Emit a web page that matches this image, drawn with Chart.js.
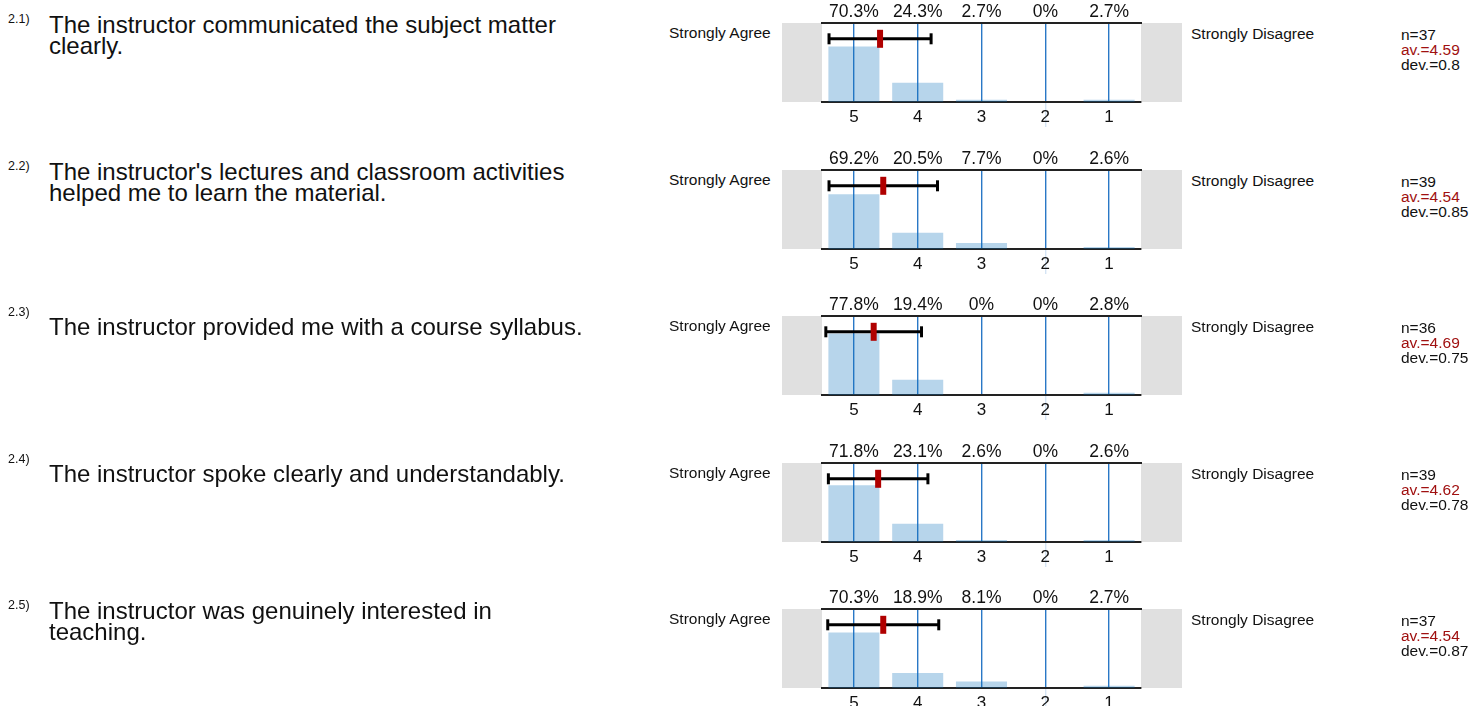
<!DOCTYPE html>
<html><head><meta charset="utf-8">
<script src="https://cdn.jsdelivr.net/npm/chart.js@4.4.1/dist/chart.umd.min.js"></script>
<style>
html,body{margin:0;padding:0;background:#fff;}
body{width:1474px;height:706px;overflow:hidden;position:relative;font-family:"Liberation Sans",Arial,sans-serif;color:#111;}
.row{position:absolute;left:0;width:1474px;height:147px;}
.num{position:absolute;left:8px;top:12px;font-size:12.5px;}
.q{position:absolute;left:49px;top:14px;width:600px;height:42px;display:flex;align-items:center;font-size:24px;line-height:21px;white-space:nowrap;}
.q.single{top:12px;}
.sa{position:absolute;left:669px;top:24px;font-size:15.5px;}
.sd{position:absolute;left:1191px;top:25px;font-size:15.5px;}
.stats{position:absolute;left:1401px;top:27px;font-size:15.5px;line-height:15px;}
.stats .av{color:#a01010;}
canvas{position:absolute;left:782px;top:0;}
</style>
</head><body>
<script>
const questionNumbers = ['2.1)', '2.2)', '2.3)', '2.4)', '2.5)'];
const questionLines = [
  ['The instructor communicated the subject matter', 'clearly.'],
  ["The instructor's lectures and classroom activities", 'helped me to learn the material.'],
  ['The instructor provided me with a course syllabus.'],
  ['The instructor spoke clearly and understandably.'],
  ['The instructor was genuinely interested in', 'teaching.']
];
const categories = ['5', '4', '3', '2', '1'];
const leftLabel = 'Strongly Agree';
const rightLabel = 'Strongly Disagree';
const pctQ1 = [70.3, 24.3, 2.7, 0, 2.7];
const pctQ2 = [69.2, 20.5, 7.7, 0, 2.6];
const pctQ3 = [77.8, 19.4, 0, 0, 2.8];
const pctQ4 = [71.8, 23.1, 2.6, 0, 2.6];
const pctQ5 = [70.3, 18.9, 8.1, 0, 2.7];
const percentages = [pctQ1, pctQ2, pctQ3, pctQ4, pctQ5];
const nValues = [37, 39, 36, 39, 37];
const means = [4.59, 4.54, 4.69, 4.62, 4.54];
const devs = [0.8, 0.85, 0.75, 0.78, 0.87];
const errorBarLevel = 80;

const FONT = '"Liberation Sans", Arial, sans-serif';
Chart.defaults.font.family = FONT;
Chart.defaults.color = '#111';

const grayBoxes = {
  id: 'grayBoxes',
  beforeDraw(chart) {
    const {ctx, chartArea: a, width} = chart;
    ctx.save();
    ctx.fillStyle = '#e0e0e0';
    ctx.fillRect(0, a.top, a.left, a.bottom - a.top);
    ctx.fillRect(a.right, a.top, width - a.right, a.bottom - a.top);
    ctx.restore();
  }
};

const ROW_H = 146.5;
questionNumbers.forEach((num, i) => {
  const top = Math.round(ROW_H * i);
  const row = document.createElement('div');
  row.className = 'row';
  row.style.top = top + 'px';
  const n = document.createElement('div'); n.className = 'num'; n.textContent = num; row.appendChild(n);
  const q = document.createElement('div'); q.className = 'q' + (questionLines[i].length === 1 ? ' single' : '');
  const inner = document.createElement('div');
  questionLines[i].forEach((l, k) => { if (k) inner.appendChild(document.createElement('br')); inner.appendChild(document.createTextNode(l)); });
  q.appendChild(inner); row.appendChild(q);
  const sa = document.createElement('div'); sa.className = 'sa'; sa.textContent = leftLabel; row.appendChild(sa);
  const sd = document.createElement('div'); sd.className = 'sd'; sd.textContent = rightLabel; row.appendChild(sd);
  const st = document.createElement('div'); st.className = 'stats';
  st.innerHTML = '<div>n=' + nValues[i] + '</div><div class="av">av.=' + means[i] + '</div><div>dev.=' + devs[i] + '</div>';
  row.appendChild(st);
  const c = document.createElement('canvas');
  c.width = 400; c.height = 147;
  c.style.width = '400px'; c.style.height = '147px';
  row.appendChild(c);
  document.body.appendChild(row);

  new Chart(c.getContext('2d'), {
    type: 'bar',
    data: {
      labels: categories,
      datasets: [
        {
          type: 'bar', data: percentages[i], xAxisID: 'x', yAxisID: 'y',
          backgroundColor: 'rgba(15,115,188,0.3)', borderWidth: 0, grouped: false,
          barPercentage: 0.8, categoryPercentage: 1.0, order: 3
        },
        {
          type: 'line', xAxisID: 'xm', yAxisID: 'y',
          data: [{x: means[i] - devs[i], y: errorBarLevel}, {x: means[i] + devs[i], y: errorBarLevel}],
          borderColor: '#000', borderWidth: 3,
          pointStyle: 'line', rotation: 90, pointRadius: 5.5,
          pointBorderWidth: 3, pointBorderColor: '#000', pointBackgroundColor: '#000', order: 2
        },
        {
          type: 'line', xAxisID: 'xm', yAxisID: 'y', showLine: false,
          data: [{x: means[i], y: errorBarLevel}],
          pointStyle: 'line', rotation: 90, pointRadius: 9,
          pointBorderWidth: 6, pointBorderColor: '#b00000', order: 1
        }
      ]
    },
    options: {
      responsive: false, animation: false, events: [],
      layout: {padding: {left: 40, right: 41, top: 0, bottom: 0}},
      plugins: {legend: {display: false}, tooltip: {enabled: false}},
      scales: {
        x: {
          type: 'category', position: 'bottom', offset: true,
          grid: {offset: false, color: '#2a78c6', lineWidth: 1.4, drawTicks: true, tickLength: 25,
                 tickColor: ctx => ctx.index === 3 ? 'rgba(42,120,198,0.2)' : 'rgba(0,0,0,0)'},
          border: {color: '#222', width: 2},
          ticks: {color: '#111', font: {size: 17}, padding: -20, autoSkip: false, maxRotation: 0},
          afterFit(s) { s.height = 45; }
        },
        xt: {
          type: 'category', position: 'top', offset: true,
          labels: percentages[i].map(v => v + '%'),
          grid: {display: false, drawTicks: false},
          border: {color: '#222', width: 2},
          ticks: {color: '#111', font: {size: 17.5}, padding: 0, autoSkip: false, maxRotation: 0},
          afterFit(s) { s.height = 23; }
        },
        xm: {type: 'linear', display: false, offset: false, min: 0.5, max: 5.5, reverse: true},
        y: {type: 'linear', display: false, min: 0, max: 100}
      }
    },
    plugins: [grayBoxes]
  });
});
</script>
</body></html>
